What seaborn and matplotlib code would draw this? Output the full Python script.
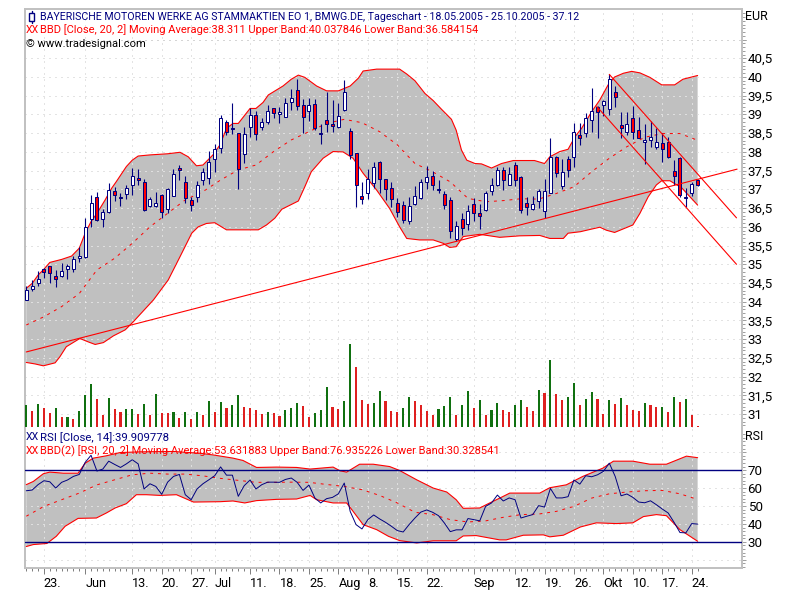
import numpy as np
import pandas as pd
import matplotlib
matplotlib.use('Agg')
import matplotlib.pyplot as plt
from matplotlib.lines import Line2D
from matplotlib.patches import Rectangle
import seaborn as sns

# candles
opens = [34.05, 34.35, 34.51, 34.87, 34.95, 34.69, 34.70, 34.87, 34.88, 35.16, 35.20, 36.20, 36.79, 36.20, 36.39, 36.96,
         36.80, 36.87, 37.13, 37.30, 37.21, 36.55, 36.55, 36.86, 36.47, 36.81, 37.57, 37.19, 36.71, 36.79, 37.26, 37.31,
         37.82, 38.10, 38.79, 38.64, 38.50, 37.94, 38.66, 38.99, 38.67, 38.81, 39.16, 39.00, 38.94, 39.32, 39.64, 39.24,
         39.08, 39.27, 38.50, 38.84, 38.75, 38.66, 39.12, 38.55, 37.96, 36.81, 36.89, 37.18, 37.72, 37.27, 37.05, 36.63,
         36.57, 36.15, 36.60, 36.78, 37.19, 37.37, 37.00, 36.88, 36.71, 35.67, 36.20, 36.07, 36.60, 36.36, 36.46, 36.95,
         37.12, 37.51, 37.13, 37.65, 37.33, 36.63, 36.48, 36.68, 36.43, 36.91, 37.87, 37.10, 37.80, 37.87, 38.45, 38.50,
         38.84, 39.19, 39.24, 39.15, 39.59, 38.71, 38.54, 38.90, 38.58, 38.26, 38.33, 38.13, 38.25, 38.26, 37.48, 37.83,
         36.76, 36.89, 37.25]
highs = [34.43, 34.58, 34.83, 34.89, 34.96, 34.85, 35.03, 35.01, 35.22, 35.45, 36.23, 36.85, 36.93, 36.47, 37.16, 37.07,
         36.91, 37.13, 37.56, 37.54, 37.27, 36.79, 36.93, 36.88, 37.05, 37.54, 37.65, 37.37, 36.79, 37.22, 37.56, 38.02,
         38.21, 38.99, 38.85, 39.30, 38.51, 38.67, 39.17, 39.09, 38.91, 39.24, 39.18, 39.21, 39.43, 39.68, 39.95, 39.41,
         39.44, 39.41, 38.74, 39.59, 39.39, 39.31, 39.92, 38.63, 37.98, 37.19, 37.54, 37.72, 37.75, 37.27, 37.21, 36.77,
         36.69, 36.80, 37.09, 37.29, 37.62, 37.50, 37.25, 36.95, 36.80, 36.15, 36.36, 36.58, 36.76, 36.61, 36.96, 37.31,
         37.61, 37.61, 37.61, 37.74, 37.36, 36.80, 36.82, 37.00, 37.27, 38.36, 37.89, 37.80, 37.89, 38.76, 38.78, 39.03,
         39.71, 39.23, 39.39, 40.07, 39.76, 39.06, 39.06, 39.22, 38.92, 38.74, 38.83, 38.63, 38.50, 38.41, 37.78, 37.87,
         37.05, 37.20, 37.29]
lows = [34.05, 34.30, 34.42, 34.64, 34.51, 34.40, 34.67, 34.62, 34.80, 35.07, 35.18, 36.00, 36.16, 36.00, 36.36, 36.70,
        36.56, 36.75, 36.86, 37.13, 36.43, 36.54, 36.54, 36.24, 36.36, 36.81, 37.25, 36.63, 36.43, 36.65, 37.12, 37.14,
        37.46, 37.96, 38.45, 38.48, 37.01, 37.71, 38.41, 38.32, 38.59, 38.75, 38.91, 38.78, 38.94, 39.12, 39.12, 38.50,
        38.83, 38.59, 38.21, 38.54, 38.54, 38.65, 39.10, 37.80, 36.54, 36.60, 36.75, 37.03, 36.89, 36.72, 36.52, 36.27,
        36.09, 36.07, 36.58, 36.75, 37.02, 36.98, 36.91, 36.48, 35.71, 35.62, 35.77, 35.91, 36.15, 35.94, 36.43, 36.86,
        37.10, 36.98, 37.12, 37.10, 36.36, 36.32, 36.45, 36.50, 36.23, 36.89, 37.32, 37.01, 37.34, 37.60, 38.18, 38.41,
        38.54, 38.37, 38.96, 38.99, 39.21, 38.38, 38.44, 38.35, 38.36, 37.69, 38.14, 38.09, 37.74, 37.85, 37.12, 36.80,
        36.54, 36.83, 37.09]
closes = [34.31, 34.42, 34.61, 34.80, 34.76, 34.60, 34.82, 34.96, 35.14, 35.21, 36.00, 36.63, 36.17, 36.40, 36.97, 36.84,
          36.76, 37.03, 37.37, 37.24, 36.44, 36.73, 36.63, 36.39, 37.00, 37.40, 37.53, 36.77, 36.57, 37.11, 37.46, 37.72,
          38.07, 38.90, 38.53, 38.60, 37.55, 38.47, 38.99, 38.47, 38.79, 39.08, 39.05, 39.06, 39.30, 39.43, 39.23, 38.92,
          39.24, 38.63, 38.47, 38.74, 38.70, 38.95, 39.59, 37.92, 37.13, 36.73, 37.27, 37.59, 37.29, 37.00, 36.73, 36.39,
          36.18, 36.55, 36.82, 37.19, 37.33, 37.13, 36.98, 36.57, 35.88, 36.02, 35.97, 36.41, 36.36, 36.30, 36.90, 37.11,
          37.51, 37.26, 37.40, 37.26, 36.45, 36.54, 36.60, 36.95, 36.95, 37.87, 37.45, 37.47, 37.51, 38.52, 38.38, 38.90,
          39.08, 39.06, 39.35, 39.94, 39.47, 38.63, 38.74, 38.54, 38.38, 38.33, 38.41, 38.26, 38.07, 37.87, 37.37, 36.84,
          36.80, 37.14, 37.12]

# volume (relative units), 1 = up day colour, 0 = down day colour
volume = [66, 48, 69, 58, 42, 57, 30, 30, 24, 48, 96, 129, 84, 36, 87, 54, 45, 54, 54, 39, 69, 36, 99, 42, 42, 45, 27, 45,
          24, 45, 36, 78, 45, 75, 57, 66, 96, 60, 57, 51, 39, 45, 42, 33, 51, 57, 72, 63, 30, 42, 51, 120, 60, 54, 78, 249,
          180, 81, 69, 72, 108, 78, 48, 45, 57, 90, 78, 66, 48, 36, 54, 63, 90, 36, 66, 108, 57, 81, 36, 51, 72, 51, 45, 66,
          81, 60, 48, 111, 102, 201, 99, 81, 90, 132, 66, 84, 105, 84, 39, 81, 69, 87, 66, 51, 48, 72, 66, 60, 60, 45, 90,
          75, 84, 36, 3]
vol_up = [1, 0, 1, 0, 0, 1, 0, 1, 0, 1, 1, 1, 0, 0, 1, 0, 0, 1, 1, 0, 1, 0, 1, 0, 0, 1, 0, 1,
          0, 1, 0, 1, 0, 1, 0, 1, 1, 0, 0, 0, 0, 1, 0, 0, 1, 1, 1, 0, 0, 1, 1, 1, 0, 0, 1, 1,
          0, 0, 0, 1, 1, 0, 0, 0, 1, 1, 0, 0, 0, 0, 1, 1, 1, 0, 1, 1, 0, 1, 0, 1, 1, 0, 0, 1,
          1, 0, 0, 1, 0, 1, 0, 0, 1, 1, 0, 1, 1, 0, 0, 1, 0, 1, 0, 0, 0, 1, 0, 0, 1, 0, 1,
          0, 1, 0, 0]

# Bollinger bands on the price, each line read at its own bar positions
bb_upper_x = [0, 1, 2, 3, 4, 6, 7.7, 9, 10, 11, 12, 13.4, 14.5, 15.3, 17, 18, 19, 21, 24, 26.1, 27.5, 28.9, 30, 31.7, 32.9,
              34, 35.1, 36, 38, 39, 40.2, 41.1, 43.6, 45, 46.2, 47.3, 49.3, 51, 53, 55, 56.4, 57.2, 59.5, 63.4, 64.6, 66,
              67.7, 69.1, 70.5, 72.2, 73, 73.9, 74.8, 76.2, 77.3, 79, 80.7, 82.7, 86.3, 88, 88.9, 90.6, 92, 93.2, 94.3, 96,
              97.4, 98.8, 99.9, 101.4, 102.8, 104.2, 105.9, 107.9, 110.1, 111.5, 114]
bb_upper = [34.36, 34.49, 34.71, 34.87, 35.05, 35.13, 35.22, 35.43, 35.83, 36.14, 36.36, 36.72, 37.03, 37.21, 37.61, 37.78,
            37.89, 37.92, 37.95, 37.99, 37.87, 37.63, 37.65, 37.92, 38.19, 38.63, 38.76, 38.76, 39.16, 39.16, 39.32, 39.52,
            39.76, 39.94, 40.05, 39.99, 39.76, 39.63, 39.63, 39.76, 39.97, 40.16, 40.21, 40.21, 40.08, 39.90, 39.56, 39.37,
            39.14, 38.87, 38.58, 38.05, 37.78, 37.69, 37.68, 37.57, 37.69, 37.77, 37.77, 37.69, 37.87, 38.01, 38.07, 38.41,
            38.63, 39.07, 39.39, 39.79, 40.00, 40.10, 40.15, 40.11, 39.99, 39.79, 39.79, 39.94, 40.04]
bb_lower_x = [0, 1.5, 2.9, 4.9, 5.7, 6.8, 9.1, 10.5, 11.7, 13.1, 14.8, 16.8, 18.2, 21.6, 24.1, 26.1, 28.1, 29.2, 30.6, 32, 34,
              36, 38, 39.4, 40.8, 42.2, 43.4, 46.2, 47.3, 48.4, 50.4, 52.1, 53.8, 55.5, 57.2, 59.5, 61.7, 63.4, 64.6, 66.8,
              69.1, 70.8, 71.9, 73, 74.2, 77, 80.4, 83.8, 87.2, 88.9, 91.2, 92, 94.1, 94.9, 97.4, 98.5, 99.9, 103, 104.2,
              105.6, 107, 107.9, 109.3, 111.3, 114]
bb_lower = [32.38, 32.34, 32.29, 32.37, 32.53, 32.80, 33.02, 32.93, 32.86, 32.91, 33.09, 33.25, 33.47, 34.05, 34.58, 35.20,
            35.83, 36.00, 36.09, 36.11, 35.92, 35.92, 35.92, 35.92, 36.05, 36.23, 36.47, 36.69, 37.07, 37.47, 37.83, 38.01,
            38.00, 37.83, 37.43, 36.98, 36.49, 36.00, 35.69, 35.65, 35.65, 35.56, 35.45, 35.47, 35.74, 35.80, 35.72, 35.76,
            35.77, 35.69, 35.69, 35.83, 35.87, 35.90, 35.99, 35.91, 35.85, 36.05, 36.36, 36.80, 37.12, 37.23, 37.23, 37.04,
            36.58]
mid_x = list(range(0, 115, 3))
bb_mid = [33.38, 33.60, 33.87, 34.22, 34.85, 35.16, 35.56, 36.00, 36.36, 36.72, 36.94, 37.25, 37.52, 37.65, 38.01, 38.32,
          38.54, 38.76, 38.87, 38.78, 38.54, 38.19, 37.69, 37.47, 37.20, 36.76, 36.67, 36.70, 36.75, 36.74, 36.89, 37.07,
          37.47, 37.83, 38.14, 38.39, 38.49, 38.49, 38.31]

# RSI and its bands
rsi = [58.5, 58.9, 61.9, 64.1, 63.5, 60.0, 63.2, 64.5, 66.5, 67.6, 74.3, 78.3, 69.5, 70.6, 75.0, 73.2, 71.5, 73.5, 75.8, 73.5,
       59.5, 62.4, 60.9, 56.5, 63.3, 66.5, 67.6, 56.3, 53.5, 59.5, 62.4, 64.6, 66.9, 71.8, 67.2, 67.2, 55.4, 61.3, 64.5, 59.5,
       61.9, 63.3, 63.3, 63.2, 64.8, 65.6, 63.2, 58.7, 61.7, 54.5, 51.7, 54.1, 54.8, 56.8, 62.8, 47.0, 39.6, 37.2, 42.4, 45.0,
       42.8, 40.9, 38.7, 36.3, 35.5, 39.6, 43.3, 46.6, 47.8, 46.5, 44.6, 40.5, 35.7, 36.7, 36.7, 43.0, 42.4, 41.7, 49.8, 51.7,
       56.1, 52.8, 54.5, 53.5, 43.3, 44.3, 45.2, 50.2, 49.4, 59.8, 54.5, 54.5, 55.2, 64.5, 62.2, 66.9, 66.3, 67.4, 69.3, 73.9,
       66.5, 55.7, 56.7, 54.8, 52.2, 51.8, 52.9, 50.7, 48.3, 46.1, 40.9, 35.2, 35.0, 40.2, 39.9]
rsi_upper_x = [0, 1.2, 2.9, 4, 6.3, 8.8, 10, 11.4, 13.6, 15.9, 19.3, 25, 29.5, 31.7, 35.1, 36.8, 39.1, 42.5, 45.9, 48.2, 52.1,
               53.3, 54.4, 55.5, 56.6, 58.9, 61.7, 63.4, 66.3, 69.1, 71.4, 73, 74.2, 77, 78.7, 80.4, 82.1, 87.2, 88.9, 91.7,
               94.5, 97.9, 99.7, 103, 105.9, 108.7, 112.1, 114]
rsi_upper = [61.9, 63.7, 68.0, 68.9, 68.3, 68.3, 73.9, 76.7, 78.0, 79.8, 80.2, 80.4, 79.4, 78.5, 76.7, 75.4, 71.5, 71.7, 71.5,
             70.6, 71.7, 69.6, 68.9, 71.1, 73.3, 73.3, 72.0, 69.8, 64.6, 60.0, 57.8, 53.5, 48.7, 48.9, 51.7, 54.4, 57.2, 57.2,
             60.2, 61.8, 66.5, 71.1, 75.0, 75.0, 73.3, 73.3, 77.8, 76.94]
rsi_lower_x = [0, 1.2, 3.5, 5.1, 6.6, 8.8, 11.9, 13.6, 15.1, 17, 18.7, 20.4, 22.7, 25.5, 28.4, 32.9, 35.1, 37.1, 39.1, 42.5,
               45.9, 48.2, 49.3, 52.1, 54.4, 55.5, 57.2, 59.5, 61.5, 63.4, 66.3, 69.1, 73, 74.2, 76.4, 80.4, 81.5, 84.4, 87.8,
               88.9, 91.2, 94.1, 96.8, 100.2, 103, 104.8, 107, 108.7, 111, 114]
rsi_lower = [27.4, 28.5, 29.1, 33.1, 38.7, 43.1, 43.3, 46.1, 48.9, 51.3, 56.3, 56.3, 55.9, 56.3, 52.2, 52.4, 52.8, 51.7, 53.0,
             53.7, 53.9, 55.9, 53.5, 51.7, 51.7, 47.0, 39.6, 36.8, 33.1, 30.7, 29.4, 30.6, 30.6, 33.3, 33.5, 31.1, 31.1, 33.7,
             33.9, 32.8, 33.7, 38.3, 40.6, 40.2, 40.6, 44.1, 45.2, 44.6, 36.8, 30.33]
rsi_mid = [44.3, 49.8, 53.5, 57.2, 61.8, 64.6, 67.4, 68.3, 67.8, 67.8, 66.8, 65.4, 64.3, 63.2, 63.2, 63.3, 63.2, 62.0, 60.9,
           59.1, 55.9, 51.7, 46.5, 45.2, 42.4, 41.1, 41.7, 43.7, 45.2, 45.5, 47.0, 49.8, 54.4, 56.8, 57.8, 58.5, 58.7, 56.8,
           53.63]

# trend lines: (bar, price) -> (bar, price)
trend_long = ([0, 120.7], [32.66, 37.54])
trend_chan1 = ([99, 120.6], [40.07, 36.24])
trend_chan2 = ([96.9, 120.6], [39.21, 35.00])

# date axis
date_idx = [3, 10, 18, 23, 28, 32, 38, 43, 48, 53, 58, 63, 68, 76, 83, 88, 93, 98, 103, 108, 113]
date_labels = ['23.', 'Jun', '13.', '20.', '27.', 'Jul', '11.', '18.', '25.', 'Aug', '8.', '15.', '22.', 'Sep', '12.', '19.',
               '26.', 'Okt', '10.', '17.', '24.']
price_ticks = [31 + 0.5 * k for k in range(21)]
rsi_ticks = [20, 30, 40, 50, 60, 70, 80]

NAVY = '#000080'
RED = '#ff0000'
GREEN = '#008000'
BAND = '#c0c0c0'
FRAME = '#c0c0c0'
GRID = '#c8c8c8'
FONT = 'Roboto'

sns.set_style('white')
plt.rcParams['font.family'] = [FONT, 'DejaVu Sans']
plt.rcParams['font.size'] = 8

PX = 0.72  # one pixel in points at dpi 100
DOTS = (0, (1, 5))


def box(left, top, right, bottom):
    return [left / 800, 1 - bottom / 600, (right - left) / 800, (bottom - top) / 600]


fig = plt.figure(figsize=(8, 6), dpi=100)
ax = fig.add_axes(box(24.5, 9, 741.5, 428))
ax_rsi = fig.add_axes(box(24.5, 428, 741.5, 567.5))
ax_vol = fig.add_axes(box(24.5, 327, 741.5, 427), facecolor='none')

bars = np.arange(len(closes))
xlim = (-0.3, 121.45)


def panel(a, hvals, up_x, upper, mid, low_x, lower):
    """grid, band and band lines, same for the price and the RSI panel"""
    for v in hvals:
        a.axhline(v, color=GRID, lw=PX, ls=DOTS, zorder=1)
    for v in date_idx:
        a.axvline(v, color=GRID, lw=PX, ls=DOTS, zorder=1)
    poly = a.fill(up_x + low_x[::-1], upper + lower[::-1], color=BAND, lw=0, zorder=2)[0]
    for v in hvals:
        a.axhline(v, color='white', lw=PX, ls=DOTS, zorder=3).set_clip_path(poly)
    for v in date_idx:
        a.axvline(v, color='white', lw=PX, ls=DOTS, zorder=3).set_clip_path(poly)
    sns.lineplot(x=up_x, y=upper, color=RED, lw=0.8, ax=a, zorder=4, errorbar=None)
    sns.lineplot(x=low_x, y=lower, color=RED, lw=0.8, ax=a, zorder=4, errorbar=None)
    sns.lineplot(x=mid_x, y=mid, color=RED, lw=0.7, ax=a, zorder=4, errorbar=None,
                 linestyle=(0, (3, 5)))


# price panel
panel(ax, price_ticks + [41], bb_upper_x, bb_upper, bb_mid, bb_lower_x, bb_lower)
ax.vlines(bars, lows, highs, color=NAVY, lw=0.8, zorder=5)
for i in bars:
    up = closes[i] >= opens[i]
    ax.bar(i, abs(closes[i] - opens[i]), bottom=min(opens[i], closes[i]), width=0.5,
           facecolor='white' if up else RED, edgecolor=NAVY, lw=PX, zorder=6)
for xs, ys in (trend_long, trend_chan1, trend_chan2):
    sns.lineplot(x=xs, y=ys, color=RED, lw=0.8, ax=ax, zorder=7, errorbar=None)

ax.set_xlim(xlim)
ax.set_ylim(30.63, 41.815)
ax.yaxis.tick_right()
ax.set_yticks(price_ticks + [41], [f'{v:g}'.replace('.', ',') for v in price_ticks] + [''])
ax.set_yticks(np.arange(30.7, 41.8, 0.1), minor=True)
ax.set_xticks([])

# volume panel, same horizontal scale
vol_df = pd.DataFrame({'bar': bars, 'volume': volume, 'up': vol_up})
sns.barplot(data=vol_df, x='bar', y='volume', hue='up', palette={1: GREEN, 0: RED}, native_scale=True,
            dodge=False, legend=False, ax=ax_vol, zorder=3)
# hue groups leave the bars too thin, set 2 px by hand
for p in ax_vol.patches:
    centre = p.get_x() + p.get_width() / 2
    p.set_width(0.36)
    p.set_x(centre - 0.18)
    p.set_linewidth(0)
ax_vol.set_xlim(xlim)
ax_vol.set_ylim(0, 300)
ax_vol.axis('off')

# RSI panel
panel(ax_rsi, rsi_ticks, rsi_upper_x, rsi_upper, rsi_mid, rsi_lower_x, rsi_lower)
ax_rsi.axhline(70, color=NAVY, lw=1.0, zorder=5)
ax_rsi.axhline(30, color=NAVY, lw=1.0, zorder=5)
sns.lineplot(x=bars, y=rsi, color=NAVY, lw=0.7, ax=ax_rsi, zorder=6, errorbar=None)
ax_rsi.set_xlim(xlim)
ax_rsi.set_ylim(15.7, 93.5)
ax_rsi.yaxis.tick_right()
ax_rsi.set_yticks(rsi_ticks, ['', '30', '40', '50', '60', '70', ''])
ax_rsi.set_yticks(np.arange(16, 92, 2), minor=True)
ax_rsi.set_xticks(date_idx, date_labels, ha='left')
ax_rsi.set_xticks(bars, minor=True)
ax_rsi.set_xlabel('')
ax_rsi.set_ylabel('')
ax.set_xlabel('')
ax.set_ylabel('')

for a in (ax, ax_rsi):
    for s in a.spines.values():
        s.set_color(FRAME)
        s.set_linewidth(1.4)
    a.tick_params(axis='y', which='major', right=True, left=False, length=3.2, width=PX, color='#a0a0a0',
                  pad=1.2, labelsize=9.6, labelcolor='black')
    a.tick_params(axis='y', which='minor', right=True, left=False, length=2.2, width=PX, color='#a0a0a0')
ax.spines['bottom'].set_visible(False)
ax_rsi.spines['top'].set_visible(False)
ax_rsi.tick_params(axis='x', which='major', bottom=True, length=4.5, width=PX, color='#808080', pad=2.5,
                   labelsize=9.2, labelcolor='black')
ax_rsi.tick_params(axis='x', which='minor', bottom=True, length=2.2, width=PX, color='#808080')
# labels start a pixel or so left of their tick
for t in ax_rsi.get_xticklabels():
    t.set_x(t.get_position()[0] - 0.3)


def label(x, y, s, color, size=8.0):
    fig.text(x / 800, 1 - y / 600, s, color=color, fontsize=size, va='center', ha='left', zorder=20)


label(39.5, 17, 'BAYERISCHE MOTOREN WERKE AG STAMMAKTIEN EO 1, BMWG.DE, Tageschart - 18.05.2005 - 25.10.2005 - 37.12', NAVY, 7.65)
label(26, 30, 'XX', RED, 7.6)
label(39.5, 30, 'BBD [Close, 20, 2] Moving Average:38.311 Upper Band:40.037846 Lower Band:36.584154', RED)
label(26, 44, '© www.tradesignal.com', 'black')
label(26, 437.5, 'XX', NAVY, 7.6)
label(39.5, 437.5, 'RSI [Close, 14]:39.909778', NAVY, 8.2)
label(26, 451, 'XX', RED, 7.6)
label(39.5, 451, 'BBD(2) [RSI, 20, 2] Moving Average:53.631883 Upper Band:76.935226 Lower Band:30.328541', RED)
label(745, 17, 'EUR', 'black', 9)
label(745, 437, 'RSI', 'black', 9)

# small candle icon in front of the title
fig.add_artist(Line2D([31.5 / 800] * 2, [1 - 11 / 600, 1 - 23 / 600], color=NAVY, lw=1.0))
fig.add_artist(Rectangle((29 / 800, 1 - 20.5 / 600), 5 / 800, 7 / 600, facecolor='white', edgecolor=NAVY, lw=1.0,
                         transform=fig.transFigure, zorder=5))

fig.savefig('out.png', dpi=100, facecolor='white')
